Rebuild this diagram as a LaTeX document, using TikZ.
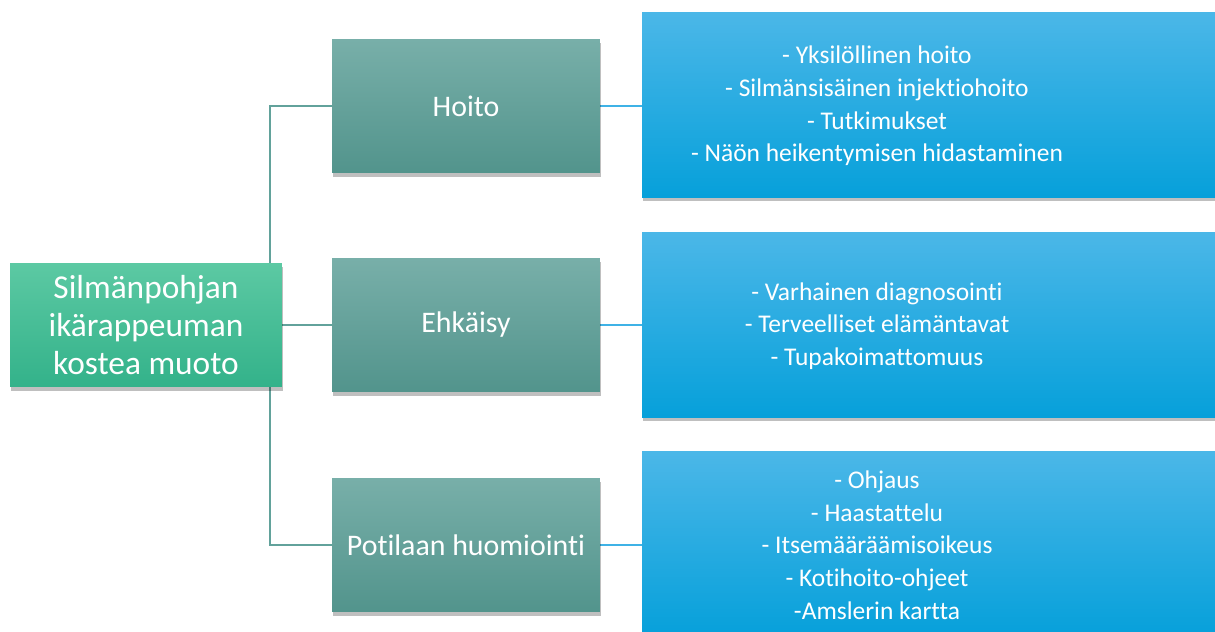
\documentclass[tikz,border=0pt]{standalone}
\usepackage{fontspec}
\setmainfont[Ligatures=NoCommon]{Carlito}
\usetikzlibrary{shadows,backgrounds}

\definecolor{rootTop}{HTML}{5CC9A3}
\definecolor{rootBot}{HTML}{33B28A}
\definecolor{midTop}{HTML}{78AFA9}
\definecolor{midBot}{HTML}{52948C}
\definecolor{listTop}{HTML}{4BB7E8}
\definecolor{listBot}{HTML}{06A0DA}
\definecolor{tealLine}{HTML}{62A29B}
\definecolor{blueLine}{HTML}{3FB2E6}

\begin{document}
\begin{tikzpicture}[x=0.02cm, y=-0.02cm,
    boxshadow/.style={drop shadow={shadow xshift=0.4pt, shadow yshift=-2pt, opacity=0.25, fill=black}},
    rootbox/.style={rectangle, top color=rootTop, bottom color=rootBot, minimum width=5.44cm, minimum height=2.48cm,
        text=white, align=center, font=\fontsize{19}{21.5}\selectfont, boxshadow},
    topicbox/.style={rectangle, top color=midTop, bottom color=midBot, minimum width=5.36cm, minimum height=2.68cm,
        text=white, align=center, font=\fontsize{17}{20}\selectfont, boxshadow},
    listbox/.style={rectangle, top color=listTop, bottom color=listBot, minimum width=11.8cm, minimum height=3.7cm, boxshadow},
    listtext/.style={text=white, align=center, font=\fontsize{14.5}{18.6}\selectfont},
    tealconn/.style={draw=tealLine, line width=1.1pt},
    blueconn/.style={draw=blueLine, line width=1.1pt}]
    \clip (0,0) rectangle (1215,632);

    % Root
    \node[rootbox] (root) at (146,325) {Silmänpohjan\\ikärappeuman\\kostea muoto};

    % Topics
    \node[topicbox] (hoito) at (466,106) {Hoito};
    \node[topicbox] (ehkaisy) at (466,325) {Ehkäisy};
    \node[topicbox] (potilas) at (466,545) {Potilaan huomiointi};

    % Lists
    \node[listbox] (hoitobox) at (937,105) {};
    \node[listtext] (hoitolist) at (877,106) {- Yksilöllinen hoito\\- Silmänsisäinen injektiohoito\\- Tutkimukset\\- Näön heikentymisen hidastaminen};
    \node[listbox] (ehkaisybox) at (937,325) {};
    \node[listtext] (ehkaisylist) at (877,326) {- Varhainen diagnosointi\\- Terveelliset elämäntavat\\- Tupakoimattomuus};
    \node[listbox] (potilasbox) at (937,544) {};
    \node[listtext] (potilaslist) at (877,545) {- Ohjaus\\- Haastattelu\\- Itsemääräämisoikeus\\- Kotihoito-ohjeet\\-Amslerin kartta};

    % Connectors
    \begin{pgfonlayer}{background}
        \draw[tealconn] (hoito.west) -- ++(-62,0) |- (potilas.west);
        \draw[tealconn] (root.east) -- (ehkaisy.west);
        \draw[blueconn] (hoito.east) -- (hoito.east -| hoitobox.west);
        \draw[blueconn] (ehkaisy.east) -- (ehkaisy.east -| ehkaisybox.west);
        \draw[blueconn] (potilas.east) -- (potilas.east -| potilasbox.west);
    \end{pgfonlayer}
\end{tikzpicture}
\end{document}
